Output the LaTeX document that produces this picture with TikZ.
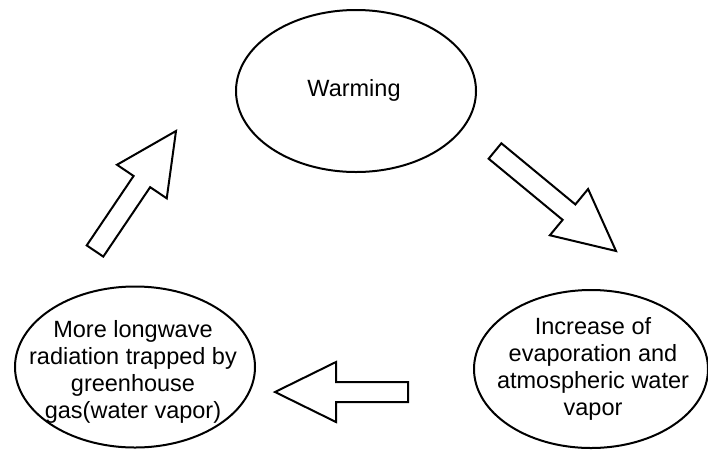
\documentclass[tikz,border=0pt]{standalone}
\usepackage{fontspec}
\setmainfont{Liberation Sans}
\usetikzlibrary{calc,shapes.geometric}
% hollow block arrow from tail (#1) to tip (#2)
\newcommand{\fatarrow}[2]{%
  \coordinate (#1-base) at ($(#2)!61pt!(#1)$);
  \draw[hollow] ($(#1)!10pt!90:(#2)$)--($(#1-base)!10pt!90:(#2)$)--($(#1-base)!30pt!90:(#2)$)
    --(#2)--($(#1-base)!30pt!-90:(#2)$)--($(#1-base)!10pt!-90:(#2)$)--($(#1)!10pt!-90:(#2)$)--cycle;}
\begin{document}
\begin{tikzpicture}[x=1pt,y=-1pt,
    bubble/.style={draw,ellipse,line width=2pt,inner sep=0pt},
    words/.style={align=center,font=\fontsize{23.5}{27}\selectfont},
    hollow/.style={line width=2pt,fill=white}]
  \useasboundingbox (0,0) rectangle (708,450);
  \node[bubble,minimum width=240pt,minimum height=162pt] (warm) at (356,91) {};
  \node[words] (warm-t) at (354,90) {Warming};
  \node[bubble,minimum width=234pt,minimum height=158pt] (evap) at (591,369) {};
  \node[words] (evap-t) at (593,369) {Increase of\\evaporation and\\atmospheric water\\vapor};
  \node[bubble,minimum width=240pt,minimum height=161pt] (trap) at (135,367) {};
  \node[words] (trap-t) at (133,372) {More longwave\\radiation trapped by\\greenhouse\\gas(water vapor)};
  % arrows between the bubbles
  \coordinate (a1) at (495,151); \coordinate (b1) at (616,251);
  \coordinate (a2) at (408,392); \coordinate (b2) at (275,392);
  \coordinate (a3) at (95,251);  \coordinate (b3) at (176,131);
  \fatarrow{a1}{b1}
  \fatarrow{a2}{b2}
  \fatarrow{a3}{b3}
\end{tikzpicture}
\end{document}
